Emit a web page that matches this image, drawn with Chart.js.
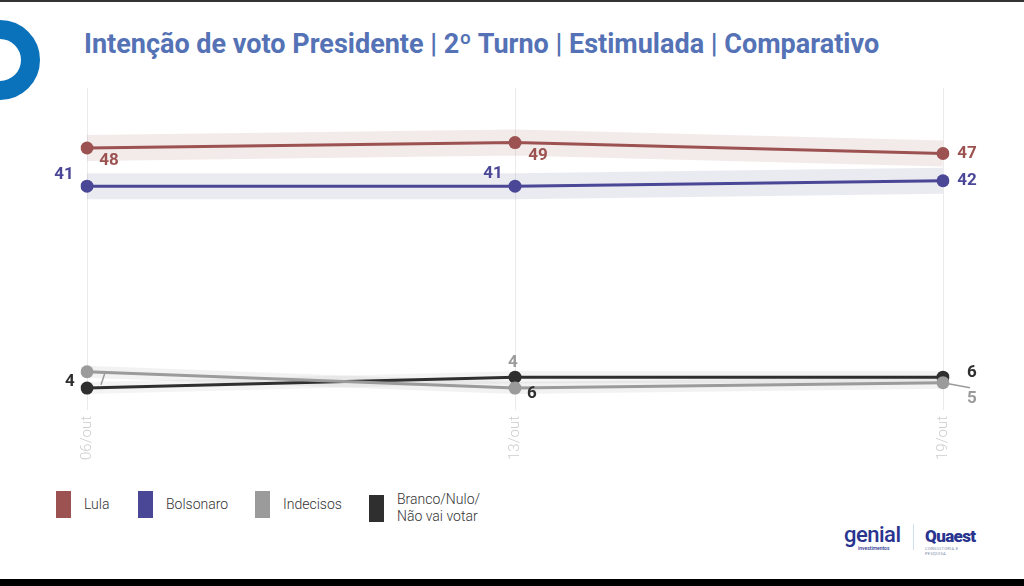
<!DOCTYPE html>
<html lang="pt-BR">
<head>
    <meta charset="UTF-8">
    <title>Intenção de voto Presidente</title>
    <style>
        body {
            margin: 0;
            width: 1024px;
            height: 586px;
            background: #fff;
            font-family: Roboto, Arial, sans-serif;
            position: relative;
            overflow: hidden;
        }
        .top-line { position: absolute; left: 0; top: 0; width: 1024px; height: 2px; background: #333; }
        .bottom-bar { position: absolute; left: 0; top: 579px; width: 1024px; height: 7px; background: #000; }
        .ring {
            position: absolute;
            left: -40px; top: 20px;
            width: 42px; height: 42px;
            border: 19px solid #0a72bb;
            border-radius: 50%;
        }
        h1 {
            position: absolute;
            left: 84px; top: 28px;
            margin: 0;
            font-size: 27px;
            font-weight: 700;
            color: #5472b5;
            white-space: nowrap;
        }
        #chart-box {
            position: absolute;
            left: 0; top: 0;
            width: 1024px; height: 472px;
        }
        .legend { position: absolute; top: 491px; left: 0; }
        .legend .item { position: absolute; display: flex; align-items: center; white-space: nowrap; }
        .legend .sw { width: 15px; height: 27px; margin-right: 13px; }
        .legend .txt { font-size: 14px; font-weight: 300; color: #333; line-height: 17px; }
        .logos { position: absolute; left: 844px; top: 522px; color: #29348f; }
        .genial { position: absolute; left: 0; top: 0; font-size: 22px; font-weight: 500; letter-spacing: -0.5px; }
        .genial small { position: absolute; left: 14px; top: 23px; font-size: 5px; letter-spacing: 0; }
        .divider { position: absolute; left: 69px; top: 2px; width: 1px; height: 26px; background: #cfe0f0; }
        .quaest { position: absolute; left: 81px; top: 4px; font-size: 17px; font-weight: 900; letter-spacing: -0.6px; }
        .quaest small { position: absolute; left: 0; top: 20px; font-size: 4px; font-weight: 400; color: #7a8aa8; letter-spacing: 0.3px; }
    </style>
</head>
<body>
    <div class="top-line"></div>
    <div class="ring"></div>
    <h1>Intenção de voto Presidente | 2º Turno | Estimulada | Comparativo</h1>

    <div id="chart-box">
        <canvas id="vote-chart"></canvas>
    </div>

    <div class="legend" id="legend"></div>

    <div class="logos">
        <div class="genial">genial<small>investimentos</small></div>
        <div class="divider"></div>
        <div class="quaest">Quaest<small>CONSULTORIA E PESQUISA</small></div>
    </div>
    <div class="bottom-bar"></div>

    <script src="https://cdn.jsdelivr.net/npm/chart.js"></script>
    <script>
        // dados
        const dates = ['06/out', '13/out', '19/out'];
        const lula = [48, 49, 47];
        const bolsonaro = [41, 41, 42];
        const indecisos = [7, 4, 5];
        const brancoNulo = [4, 6, 6];

        const seriesNames = ['Lula', 'Bolsonaro', 'Indecisos', ['Branco/Nulo/', 'Não vai votar']];
        const seriesColors = ['#9d5252', '#4b4797', '#9b9b9b', '#2f2f2f'];
        const bandColors = ['rgba(160,90,90,0.13)', 'rgba(90,90,150,0.13)', 'rgba(150,150,150,0.12)', 'rgba(110,110,110,0.08)'];
        const seriesData = [lula, bolsonaro, indecisos, brancoNulo];

        // deslocamento dos rótulos (px) em relação ao ponto; null = sem rótulo
        const labelOffsets = [
            [[22, 13], [23, 13], [24, 0]],
            [[-23, -11], [-22, -12], [24, 0]],
            [null, [-2, -25], [29, 16]],
            [[-17, -6], [17, 17], [29, -4]]
        ];
        // linhas de chamada (leader lines) do Indecisos
        const leaders = { 2: { 0: [[18, 1], [14, 13]], 2: [[27, 5]] } };

        const ctx = document.getElementById('vote-chart').getContext('2d');

        const datasets = [];
        seriesData.forEach((data, i) => {
            datasets.push({
                label: 'line' + i,
                data: data,
                borderColor: seriesColors[i],
                backgroundColor: seriesColors[i],
                borderWidth: 3,
                pointRadius: 6.5,
                pointHoverRadius: 6.5,
                pointBorderWidth: 0,
                order: 1
            });
        });
        seriesData.forEach((data, i) => {
            datasets.push({
                label: 'band' + i,
                data: data,
                borderColor: bandColors[i],
                borderWidth: i < 2 ? 26 : 12,
                borderCapStyle: 'butt',
                pointRadius: 0,
                order: 2
            });
        });

        const valueLabels = {
            id: 'valueLabels',
            afterDatasetsDraw(chart) {
                const c = chart.ctx;
                c.save();
                c.font = 'bold 17px Roboto, Arial, sans-serif';
                c.textAlign = 'center';
                c.textBaseline = 'middle';
                seriesData.forEach((data, i) => {
                    const meta = chart.getDatasetMeta(i);
                    meta.data.forEach((pt, j) => {
                        const lead = leaders[i] && leaders[i][j];
                        if (lead) {
                            c.strokeStyle = seriesColors[i];
                            c.lineWidth = 1.5;
                            c.beginPath();
                            c.moveTo(pt.x, pt.y);
                            lead.forEach(p => c.lineTo(pt.x + p[0], pt.y + p[1]));
                            c.stroke();
                        }
                        const off = labelOffsets[i][j];
                        if (!off) return;
                        c.fillStyle = seriesColors[i];
                        c.fillText(data[j], pt.x + off[0], pt.y + off[1]);
                    });
                });
                c.restore();
            }
        };

        new Chart(ctx, {
            type: 'line',
            data: { labels: dates, datasets: datasets },
            options: {
                responsive: true,
                maintainAspectRatio: false,
                animation: false,
                layout: { padding: { left: 87, right: 81, top: 88, bottom: 6 } },
                plugins: {
                    legend: { display: false },
                    tooltip: { enabled: false }
                },
                scales: {
                    x: {
                        grid: { color: '#ebebeb', drawTicks: false },
                        border: { display: false },
                        ticks: {
                            color: '#cdcdcd',
                            font: { family: 'Roboto', size: 15, weight: 300 },
                            maxRotation: 90,
                            minRotation: 90,
                            padding: 6
                        }
                    },
                    y: {
                        display: false,
                        min: 0,
                        max: 59
                    }
                }
            },
            plugins: [valueLabels]
        });

        // legenda em HTML (texto de duas linhas no último item)
        const legendX = [56, 138, 255, 369];
        const legendEl = document.getElementById('legend');
        seriesNames.forEach((name, i) => {
            const item = document.createElement('div');
            item.className = 'item';
            item.style.left = legendX[i] + 'px';
            const sw = document.createElement('div');
            sw.className = 'sw';
            sw.style.background = seriesColors[i];
            const txt = document.createElement('div');
            txt.className = 'txt';
            txt.innerHTML = Array.isArray(name) ? name.join('<br>') : name;
            item.appendChild(sw);
            item.appendChild(txt);
            legendEl.appendChild(item);
        });
    </script>
</body>
</html>
